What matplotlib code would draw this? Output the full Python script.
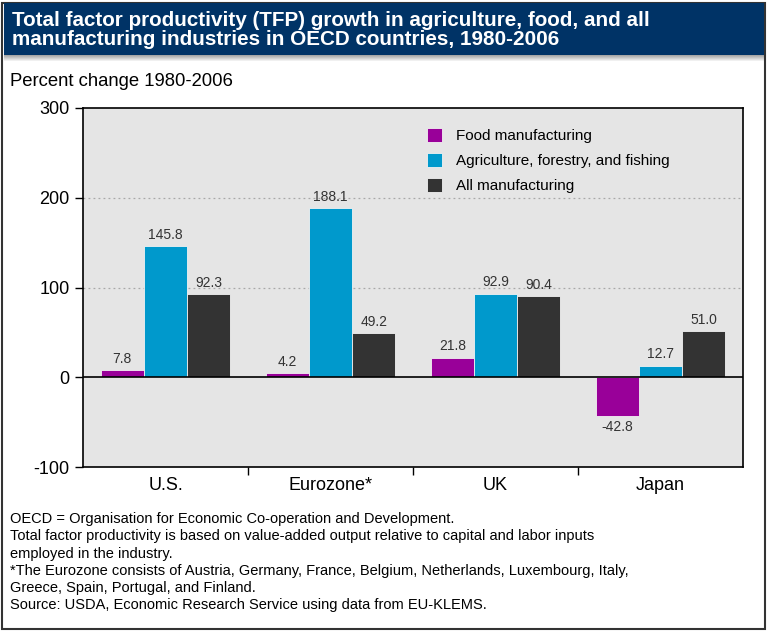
import matplotlib.pyplot as plt
import matplotlib.patches as patches
import numpy as np

plt.rcParams['font.family'] = ['Liberation Sans', 'DejaVu Sans']
plt.rcParams['axes.unicode_minus'] = False

regions = ['U.S.', 'Eurozone*', 'UK', 'Japan']
series = ['Food manufacturing', 'Agriculture, forestry, and fishing', 'All manufacturing']
food = [7.8, 4.2, 21.8, -42.8]
agri = [145.8, 188.1, 92.9, 12.7]
allman = [92.3, 49.2, 90.4, 51.0]
colors = ['#990099', '#0099cc', '#333333']

title = ('Total factor productivity (TFP) growth in agriculture, food, and all\n'
         'manufacturing industries in OECD countries, 1980-2006')
notes = ('OECD = Organisation for Economic Co-operation and Development.\n'
         'Total factor productivity is based on value-added output relative to capital and labor inputs\n'
         'employed in the industry.\n'
         '*The Eurozone consists of Austria, Germany, France, Belgium, Netherlands, Luxembourg, Italy,\n'
         'Greece, Spain, Portugal, and Finland.\n'
         'Source: USDA, Economic Research Service using data from EU-KLEMS.')

W, H = 768, 631
fig = plt.figure(figsize=(W / 100, H / 100), dpi=100)

# outer border and title banner
fig.patches.append(patches.Rectangle((2 / W, 2 / H), 763 / W, 626 / H, transform=fig.transFigure,
                                     fill=False, edgecolor='#333333', linewidth=1.5))
fig.patches.append(patches.Rectangle((4 / W, (H - 55) / H), 760 / W, 52 / H, transform=fig.transFigure,
                                     facecolor='#003366', edgecolor='none'))
for i in range(6):
    fig.patches.append(patches.Rectangle((4 / W, (H - 56 - i) / H), 760 / W, 1 / H,
                                         transform=fig.transFigure, facecolor='#000000',
                                         alpha=0.35 * (1 - i / 6), edgecolor='none'))
fig.text(12 / W, (H - 30) / H, title, color='white', fontsize=14.9, fontweight='bold',
         va='center', ha='left', linespacing=1.03)

fig.text(10 / W, (H - 82) / H, 'Percent change 1980-2006', fontsize=13.3, va='center', ha='left')

ax = fig.add_axes([83 / W, (H - 467) / H, 660 / W, 359 / H])
ax.set_facecolor('#e5e5e5')

x = np.arange(len(regions))
w = 0.262
for k, (vals, c) in enumerate(zip([food, agri, allman], colors)):
    xs = x + (k - 1) * w
    ax.bar(xs, vals, width=w, color=c, edgecolor='#f2f2f2', linewidth=0.6, label=series[k], zorder=3)
    for xi, v in zip(xs, vals):
        if v >= 0:
            ax.text(xi, v + 5, f'{v:.1f}', ha='center', va='bottom', fontsize=10, color='#333333')
        else:
            ax.text(xi, v - 5, f'{v:.1f}', ha='center', va='top', fontsize=10, color='#333333')

ax.set_xlim(-0.5, len(regions) - 0.5)
ax.set_ylim(-100, 300)
ax.set_yticks([-100, 0, 100, 200, 300])
ax.tick_params(axis='y', labelsize=13, length=6, direction='out', width=1, colors='black')
ax.set_xticks(x)
ax.set_xticklabels(regions, fontsize=13)
ax.set_xticks(np.arange(0.5, len(regions) - 1, 1), minor=True)
ax.tick_params(axis='x', which='major', length=0, pad=7)
ax.tick_params(axis='x', which='minor', length=6, width=1)
for y in [100, 200]:
    ax.axhline(y, color='#a8a8a8', linestyle=(0, (1.5, 2.5)), linewidth=0.9, zorder=1)
ax.axhline(0, color='black', linewidth=1.2, zorder=4)
for s in ax.spines.values():
    s.set_color('black')
    s.set_linewidth(1.2)

ax.legend(loc='upper left', bbox_to_anchor=(0.5, 0.983), frameon=False, fontsize=11,
          handlelength=1.0, handleheight=1.0, handletextpad=0.9, labelspacing=0.66)

fig.text(10 / W, (H - 512) / H, notes, fontsize=10.5, va='top', ha='left', linespacing=1.3)

fig.savefig('out.png', dpi=100)
